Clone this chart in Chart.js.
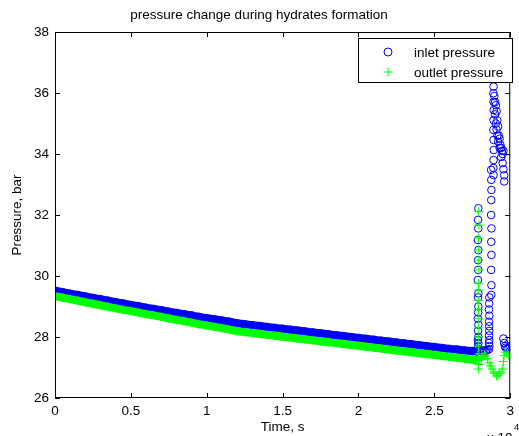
<!DOCTYPE html>
<html>
<head>
<meta charset="utf-8">
<script src="https://cdn.jsdelivr.net/npm/chart.js@4.4.0/dist/chart.umd.min.js"></script>
<style>
  html, body { margin: 0; padding: 0; background: #fff; }
  canvas { display: block; }
</style>
</head>
<body>
<canvas id="pressureChart" width="519" height="436"></canvas>
<script>
// axis ticks
const xTickLabels = ['0', '0.5', '1', '1.5', '2', '2.5', '3'];
const yTicks = [26, 28, 30, 32, 34, 36, 38];

// slow decline before hydrates form (time in s)
const declineTime = [0, 500, 1000, 1500, 2000, 2500, 3000, 3500, 4000, 4500,
  5000, 5500, 6000, 6500, 7000, 7500, 8000, 8500, 9000, 9500,
  10000, 10500, 11000, 11500, 12000, 12500, 13000, 13500, 14000, 14500,
  15000, 15500, 16000, 16500, 17000, 17500, 18000, 18500, 19000, 19500,
  20000, 20500, 21000, 21500, 22000, 22500, 23000, 23500, 24000, 24500,
  25000, 25500, 26000, 26500, 27000, 27500, 27800];
const inletDecline = [29.52, 29.47, 29.42, 29.38, 29.33, 29.28, 29.24, 29.19, 29.14, 29.10,
  29.05, 29.01, 28.96, 28.92, 28.88, 28.83, 28.79, 28.75, 28.71, 28.66,
  28.62, 28.58, 28.54, 28.50, 28.45, 28.42, 28.39, 28.36, 28.33, 28.30,
  28.27, 28.24, 28.21, 28.18, 28.15, 28.12, 28.09, 28.06, 28.03, 28.00,
  27.97, 27.94, 27.91, 27.88, 27.85, 27.82, 27.79, 27.76, 27.73, 27.70,
  27.67, 27.64, 27.61, 27.59, 27.56, 27.54, 27.52];
const outletDecline = [29.34, 29.29, 29.24, 29.19, 29.14, 29.09, 29.04, 28.99, 28.94, 28.89,
  28.85, 28.80, 28.75, 28.71, 28.66, 28.61, 28.56, 28.52, 28.47, 28.42,
  28.38, 28.33, 28.29, 28.24, 28.19, 28.16, 28.13, 28.10, 28.07, 28.04,
  28.01, 27.98, 27.95, 27.92, 27.89, 27.86, 27.83, 27.80, 27.77, 27.74,
  27.71, 27.68, 27.65, 27.62, 27.59, 27.56, 27.53, 27.50, 27.47, 27.44,
  27.41, 27.38, 27.35, 27.32, 27.29, 27.26, 27.24];

// scattered readings during formation
const inletSpikeTime = [28000, 28100, 28200, 28300, 28400, 28500,
  27850, 27880, 27900, 27870, 27900, 27880, 27900, 27870, 27890, 27900,
  27880, 27900, 27870, 27890, 27880, 27900, 27870, 27890, 27880, 27900,
  28600, 28620, 28600, 28620, 28600, 28620, 28610, 28600, 28620, 28600, 28610, 28620,
  28750, 28760, 28740, 28760, 28750, 28760, 28740, 28750, 28760, 28750, 28740,
  28900, 28890, 28900, 28910, 28900, 28890, 28900, 28910, 28900, 28890, 28900,
  28950, 29000, 29000, 29050, 29050, 29100, 29100, 29150, 29150, 29200, 29200, 29250,
  29300, 29300, 29350, 29400, 29400, 29450, 29500, 29500, 29550, 29550, 29600, 29600,
  29550, 29600, 29650, 29700, 29800, 29900, 30000];
const inletSpikePres = [27.55, 27.56, 27.55, 27.56, 27.55, 27.57,
  27.62, 27.70, 27.80, 27.90, 28.00, 28.20, 28.40, 28.60, 28.80, 29.00,
  29.30, 29.43, 29.87, 30.20, 30.52, 30.85, 31.18, 31.56, 31.84, 32.22,
  27.60, 27.70, 27.80, 27.90, 28.05, 28.20, 28.35, 28.50, 28.70, 28.90, 29.10, 29.30,
  29.38, 29.70, 30.20, 30.69, 31.12, 31.56, 32.00, 32.49, 32.82, 33.15, 33.48,
  33.31, 33.54, 33.80, 34.13, 34.46, 34.79, 35.11, 35.44, 35.71, 35.99, 36.21,
  35.90, 35.70, 35.30, 35.60, 35.00, 35.40, 34.80, 35.10, 34.60, 34.90, 34.40, 34.60,
  34.50, 34.20, 34.30, 34.20, 33.90, 34.10, 34.00, 33.70, 34.10, 33.50, 33.30, 33.10,
  27.95, 27.80, 27.70, 27.65, 27.62, 27.65, 27.70];

const outletSpikeTime = [28000, 28100, 28200, 28300, 28400,
  27900, 27920, 27900, 27930, 27910, 27900, 27920, 27930, 27910,
  27900, 27920, 27910, 27930, 27900, 27920, 27910, 27930, 27920,
  28500, 28600, 28700, 28800, 28900, 29000, 29100, 29200, 29300, 29400,
  29500, 29550, 29600, 29700, 29800, 29900, 30000];
const outletSpikePres = [27.25, 27.30, 27.35, 27.40, 27.38,
  26.95, 27.10, 27.25, 27.45, 27.70, 28.00, 28.30, 28.60, 28.90,
  29.20, 29.54, 29.76, 30.20, 30.52, 30.85, 31.24, 31.67, 32.11,
  27.30, 27.15, 27.05, 26.95, 26.85, 26.80, 26.72, 26.75, 26.80, 26.85,
  26.95, 27.20, 27.40, 27.50, 27.45, 27.40, 27.35];

const BLUE = '#0000ff';
const GREEN = '#00ff00';
const FONT = 'Liberation Sans, Arial, sans-serif';

function toPoints(xs, ys) {
  return xs.map((x, i) => ({ x: x, y: ys[i] }));
}

// matlab style box with ticks pointing inwards
const boxTicks = {
  id: 'boxTicks',
  afterDraw(chart) {
    const { ctx, chartArea: a, scales: { x, y } } = chart;
    ctx.save();
    ctx.strokeStyle = '#000';
    ctx.lineWidth = 1;
    ctx.strokeRect(a.left + 0.5, a.top + 0.5, a.right - a.left - 1, a.bottom - a.top - 1);
    ctx.beginPath();
    x.ticks.forEach(t => {
      const px = Math.round(x.getPixelForValue(t.value)) + 0.5;
      ctx.moveTo(px, a.bottom); ctx.lineTo(px, a.bottom - 5);
      ctx.moveTo(px, a.top); ctx.lineTo(px, a.top + 5);
    });
    y.ticks.forEach(t => {
      const py = Math.round(y.getPixelForValue(t.value)) + 0.5;
      ctx.moveTo(a.left, py); ctx.lineTo(a.left + 5, py);
      ctx.moveTo(a.right, py); ctx.lineTo(a.right - 5, py);
    });
    ctx.stroke();

    // exponent of the time axis
    ctx.fillStyle = '#000';
    ctx.font = '13.5px ' + FONT;
    ctx.textAlign = 'left';
    ctx.textBaseline = 'alphabetic';
    ctx.fillText('x 10', 487, 442);
    ctx.font = '9.5px ' + FONT;
    ctx.fillText('4', 514, 430);
    ctx.restore();
  }
};

// legend box inside the axes
const boxLegend = {
  id: 'boxLegend',
  afterDraw(chart) {
    const ctx = chart.ctx;
    ctx.save();
    ctx.fillStyle = '#fff';
    ctx.fillRect(358, 38, 155, 45);
    ctx.strokeStyle = '#000';
    ctx.lineWidth = 1;
    ctx.strokeRect(358.5, 38.5, 154, 44);

    ctx.strokeStyle = BLUE;
    ctx.beginPath();
    ctx.arc(388, 52, 4, 0, Math.PI * 2);
    ctx.stroke();

    ctx.strokeStyle = GREEN;
    ctx.beginPath();
    ctx.moveTo(383.5, 72); ctx.lineTo(392.5, 72);
    ctx.moveTo(388, 67.5); ctx.lineTo(388, 76.5);
    ctx.stroke();

    ctx.fillStyle = '#000';
    ctx.font = '13.5px ' + FONT;
    ctx.textBaseline = 'middle';
    ctx.fillText('inlet pressure', 414, 53);
    ctx.fillText('outlet pressure', 414, 73);
    ctx.restore();
  }
};

const ctx = document.getElementById('pressureChart').getContext('2d');
new Chart(ctx, {
  type: 'scatter',
  data: {
    datasets: [
      {
        label: 'outlet pressure',
        data: toPoints(declineTime, outletDecline),
        showLine: true,
        borderColor: GREEN,
        borderWidth: 8,
        pointStyle: 'cross',
        pointRadius: 4.5,
        pointBorderWidth: 1,
        order: 0
      },
      {
        label: 'outlet pressure',
        data: toPoints(outletSpikeTime, outletSpikePres),
        borderColor: GREEN,
        pointStyle: 'cross',
        pointRadius: 4.5,
        pointBorderWidth: 1,
        order: 0
      },
      {
        label: 'inlet pressure',
        data: toPoints(declineTime, inletDecline),
        showLine: true,
        borderColor: BLUE,
        backgroundColor: 'transparent',
        borderWidth: 8,
        pointStyle: 'circle',
        pointRadius: 3.8,
        pointBorderWidth: 1,
        order: 1
      },
      {
        label: 'inlet pressure',
        data: toPoints(inletSpikeTime, inletSpikePres),
        borderColor: BLUE,
        backgroundColor: 'transparent',
        pointStyle: 'circle',
        pointRadius: 3.8,
        pointBorderWidth: 1,
        order: 1
      }
    ]
  },
  options: {
    responsive: false,
    animation: false,
    devicePixelRatio: 1,
    layout: { padding: { left: 0, right: 1, top: 0, bottom: 0 } },
    plugins: {
      legend: { display: false },
      tooltip: { enabled: false },
      title: {
        display: true,
        text: 'pressure change during hydrates formation',
        color: '#000',
        font: { family: FONT, size: 13.5, weight: 'normal' },
        padding: { top: 7, bottom: 8.8 }
      }
    },
    scales: {
      x: {
        type: 'linear',
        min: 0,
        max: 30000,
        grid: { display: false, drawTicks: false },
        border: { display: false },
        ticks: {
          stepSize: 5000,
          color: '#000',
          padding: 5,
          maxRotation: 0,
          font: { family: FONT, size: 13.5 },
          callback: (v, i) => xTickLabels[i]
        },
        title: {
          display: true,
          text: 'Time, s',
          color: '#000',
          font: { family: FONT, size: 13.5 },
          padding: { top: 0, bottom: 1 }
        },
        afterFit: s => { s.height = 38; }
      },
      y: {
        min: yTicks[0],
        max: yTicks[yTicks.length - 1],
        grid: { display: false, drawTicks: false },
        border: { display: false },
        ticks: {
          stepSize: 2,
          color: '#000',
          padding: 6,
          font: { family: FONT, size: 13.5 }
        },
        title: {
          display: true,
          text: 'Pressure, bar',
          color: '#000',
          font: { family: FONT, size: 13.5 },
          padding: { top: 9, bottom: 0 }
        },
        afterFit: s => { s.width = 55; }
      }
    }
  },
  plugins: [boxTicks, boxLegend]
});
</script>
</body>
</html>
